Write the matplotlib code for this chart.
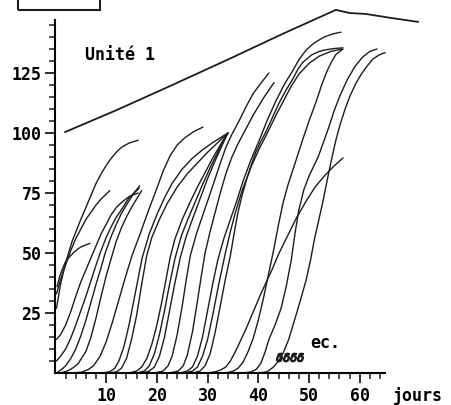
import matplotlib
matplotlib.use("Agg")
import matplotlib.pyplot as plt
from matplotlib.patches import Rectangle
from matplotlib.ticker import FixedLocator

# upper reference line
top_days = [1.9, 12, 22, 33.8, 45, 55.3, 58, 61.2, 66, 71.5]
top_vals = [100.4, 109.5, 119, 130.4, 141.5, 151.3, 150, 149.6, 148, 146.3]

# growth curves, (day, value) pairs
curves = [
    # starting on the axis
    [(0.2, 27), (1, 37), (2, 46), (3.3, 55), (5, 64), (6, 69), (7, 74), (8, 79), (9, 83), (10, 86.5),
     (11, 89.5), (12, 92), (13, 94), (14.5, 95.8), (16.3, 97)],
    [(0.2, 33), (1, 39), (2, 45), (3, 51), (4, 56), (5, 60), (6, 64), (7, 67), (8, 70), (9, 72.5), (10.7, 76)],
    [(0.3, 36), (0.8, 40), (1.4, 43.5), (1.9, 46), (2.6, 48), (3.5, 50), (4.3, 51.5), (5, 52.5), (6, 53.4), (6.8, 54)],
    # early group
    [(0.2, 14), (1, 16), (2, 20), (3, 25.5), (4, 32), (5, 38), (6, 43), (7.4, 50), (8.2, 54), (9, 58),
     (10, 62), (11, 66), (12, 69), (13, 71), (14.5, 73.5), (16.3, 75)],
    [(0.2, 5), (1, 7), (2, 10), (3, 14.5), (4, 20), (5, 26), (6, 32), (7, 38.5), (8, 45), (8.8, 50),
     (10, 56.5), (11, 61), (12, 65), (13, 68), (14.5, 73), (16.5, 77)],
    [(0.5, 0.5), (1.2, 1.5), (2, 3), (3, 6), (4, 10), (5, 15.5), (6, 22), (7, 29.5), (8, 37), (9, 44),
     (9.8, 50), (11, 57), (12, 62), (13, 66.5), (14, 70), (15.3, 74.5), (16.6, 78)],
    [(0.5, 0), (1.5, 0.3), (2.5, 1), (3.5, 2.2), (4.5, 4), (6, 9), (7, 15), (8, 23), (9, 32), (10, 40.5),
     (11.3, 50), (12, 55), (13, 60.5), (14, 65), (15, 69), (16, 72.5), (17, 76)],
    [(3.5, 0), (5.2, 0.4), (6.5, 1.5), (7.5, 3), (8.8, 7), (10, 13), (11.2, 21), (12.5, 30.5), (13.8, 40),
     (15.1, 49), (16.7, 58), (18.3, 67.5), (20, 77), (21.3, 84.5), (22.6, 90.5), (24, 95), (25.5, 98),
     (27.2, 100.5), (29.1, 102.5)],
    # converging near day 34
    [(9, 0), (10.7, 0.5), (11.7, 2), (12.5, 5), (13.5, 11), (14.5, 20), (15.8, 34), (17.1, 48), (18.5, 58),
     (20, 66), (21.5, 73), (23, 79), (25, 85), (27, 89.5), (29, 93), (31, 96), (32.5, 98), (34, 100)],
    [(10.5, 0), (12.1, 0.5), (13, 2), (14, 6), (15, 14), (16, 24), (17, 37), (18, 49), (19, 56.5),
     (20.5, 64), (22, 70.5), (24, 77.5), (26, 83), (28, 87.5), (30, 92), (32, 96), (34, 100)],
    [(14.5, 0), (16, 0.8), (17, 2.5), (18, 6), (19, 12), (20, 20), (21, 30), (21.8, 39), (22.6, 48),
     (23.5, 55.5), (25, 64), (26.5, 71), (28, 77.5), (29.5, 83.5), (31, 89.5), (32.5, 95), (34, 100)],
    [(16, 0), (17.5, 0.8), (18.5, 3), (19.5, 8), (20.5, 16), (21.5, 26), (22.5, 37), (23.6, 48), (24.8, 57),
     (26, 63.5), (27.5, 71), (29, 78.5), (30.5, 85.5), (32, 92), (33, 96.5), (34, 100)],
    [(17, 0), (18.5, 0.8), (19.5, 2.5), (20.5, 7), (21.5, 15), (22.5, 26), (23.5, 37), (24.6, 48),
     (25.8, 57), (27, 64), (28.5, 72.5), (30, 81), (31.5, 88.5), (33, 95.5), (34, 100)],
    # ending near day 42-43
    [(19.5, 0), (21.2, 0.8), (22.2, 3), (23, 7), (24, 16), (25, 28), (25.8, 39), (26.6, 49), (27.8, 58),
     (29, 65.5), (30.3, 73.5), (31.5, 81), (32.6, 88), (33.6, 94), (34.8, 99.5), (36.2, 105),
     (37.6, 111), (39, 116.5), (40.6, 121), (42.1, 125)],
    [(22.5, 0), (24.2, 0.8), (25.2, 3), (26, 7.5), (27, 17), (28, 30), (28.8, 41), (29.5, 50), (30.5, 59),
     (31.5, 67), (32.5, 75), (33.6, 83), (34.8, 90), (36, 95.5), (37.5, 101.5), (39, 107.5),
     (41, 114.5), (43.1, 121)],
    # ending near day 56
    [(24.5, 0), (26, 0.8), (27, 2.5), (28, 7), (29, 15), (30, 26), (31, 37), (32, 47), (33.2, 56),
     (34.5, 64), (35.8, 72), (37, 80), (38.5, 88.5), (40.1, 96.5), (41.8, 105.5), (43.5, 113.5),
     (45.2, 120.5), (46.8, 126), (48, 130.5), (49.4, 134.5), (51, 137.5), (53, 140), (54.7, 141.3), (56.3, 142)],
    [(27, 0), (28.5, 0.8), (29.5, 3), (30.5, 8), (31.5, 17), (32.5, 28), (33.5, 39), (34.5, 49), (35.3, 59),
     (36, 67), (36.8, 74), (37.6, 80), (38.5, 86), (39.5, 92), (40.5, 96.5), (41.5, 100.5), (42.8, 106.5),
     (44.1, 112.5), (45.5, 118), (46.8, 122.5), (47.8, 126.5), (48.8, 129.5), (50.5, 132.5),
     (52, 134), (53.4, 134.7), (55, 135.2), (56.7, 135.5)],
    [(25.5, 0), (27, 0.8), (28, 2.5), (29, 7), (30, 14), (31, 24), (32.2, 37), (33.4, 49), (34.5, 59),
     (35.5, 67), (36.8, 76), (38.6, 86), (40.2, 93.5), (41.9, 100.5), (43.5, 107.5), (45, 113.5),
     (46.5, 119.5), (48, 124.5), (50, 129), (52, 132), (54.3, 134), (56.6, 135)],
    [(33.5, 0), (35, 0.7), (36, 2), (37, 4.5), (38, 9), (39, 14.5), (40, 22), (41, 31), (42, 41), (43, 51),
     (44, 62), (44.9, 71), (45.8, 78), (46.8, 84.5), (47.8, 91), (48.8, 97.5), (50, 105), (51.4, 113),
     (52.5, 120), (53.5, 125.5), (54.4, 129.5), (55.3, 132.7), (56.7, 135)],
    # slow late curve
    [(30, 0), (31.5, 0.5), (32.6, 1.3), (33.6, 2.5), (34.5, 5), (35.5, 9), (36.5, 13.5), (37.5, 18),
     (38.5, 23), (39.5, 28), (40.5, 33), (41.5, 37.5), (42.8, 43.5), (44, 49.5), (45.5, 56), (47.5, 64.5),
     (49.4, 71.5), (51.2, 77.5), (53, 82), (54.8, 86), (56.7, 89.6)],
    # last two
    [(37, 0), (38.6, 0.5), (39.6, 1.5), (40.5, 4), (41.3, 8.5), (42.1, 14), (43.3, 20), (44.5, 27),
     (45.5, 36), (46.5, 47), (47.3, 59), (48, 68), (49, 76.5), (50, 82), (51, 86.5), (51.8, 90),
     (53, 97), (54, 103), (55, 109.5), (56.1, 115.5), (57.5, 122), (59, 127.5), (60.5, 131.5),
     (62, 134), (63.4, 135)],
    [(40, 0), (41.7, 0.5), (43, 2.5), (44, 5), (44.9, 8.3), (46, 14), (47, 21), (48.2, 29.5), (49.4, 38.5),
     (50.3, 47), (51, 55), (51.9, 63.5), (52.8, 72), (53.7, 81.5), (54.5, 89.5), (55.3, 97), (56.2, 104),
     (57.2, 110.5), (58.1, 115.5), (59.2, 120.5), (60.3, 124.5), (61.5, 128), (62.6, 130.8),
     (63.8, 132.5), (65, 133.5)],
]

sprout_days = [44.1, 45.5, 46.8, 48.2]
sprout_vals = [6.5, 6.5, 6.5, 6.5]

x_ticks = [10, 20, 30, 40, 50, 60]
y_ticks = [25, 50, 75, 100, 125]
x_minor = list(range(2, 66, 2))
y_minor = list(range(5, 150, 5))

font = dict(family="DejaVu Sans Mono", weight="bold", size=12)

fig = plt.figure(figsize=(4.52, 4.05), dpi=100)
ax = fig.add_axes([55.5 / 452, 32 / 405, 73 * 5.07 / 452, 372 / 405])
ax.set_xlim(0, 73)
ax.set_ylim(0, 155)

ink = "#1c1c1c"
ax.plot(top_days, top_vals, color=ink, lw=1.3)
for c in curves:
    ax.plot([p[0] for p in c], [p[1] for p in c], color=ink, lw=1.0,
            solid_joinstyle="round", solid_capstyle="round")

ax.plot(sprout_days, sprout_vals, ls="none", marker=r"$\delta$", ms=6, color=ink)

for s in ["top", "right"]:
    ax.spines[s].set_visible(False)
ax.spines["left"].set_bounds(0, 147)
ax.spines["bottom"].set_bounds(0, 65)
ax.spines["left"].set_linewidth(1.5)
ax.spines["bottom"].set_linewidth(1.5)

ax.set_xticks(x_ticks)
ax.set_yticks(y_ticks)
ax.xaxis.set_minor_locator(FixedLocator(x_minor))
ax.yaxis.set_minor_locator(FixedLocator(y_minor))
ax.tick_params(which="major", length=7, width=1.3, pad=3, color=ink)
ax.tick_params(which="minor", length=4, width=1.1, color=ink)
for lab in ax.get_xticklabels() + ax.get_yticklabels():
    lab.set_fontfamily("DejaVu Sans Mono")
    lab.set_fontweight("bold")
    lab.set_fontsize(12)

ax.text(5.8, 132.5, "Unité 1", va="center", ha="left", **font)
ax.text(50.2, 12.5, "ec.", va="center", ha="left", **font)
ax.text(66.5, -9.5, "jours", va="center", ha="left", clip_on=False, **font)

fig.patches.append(Rectangle((18 / 452, 1 - 10 / 405), 82 / 452, 0.1,
                             transform=fig.transFigure, fill=False, lw=1.5, ec=ink))

fig.savefig("out.png", dpi=100)
